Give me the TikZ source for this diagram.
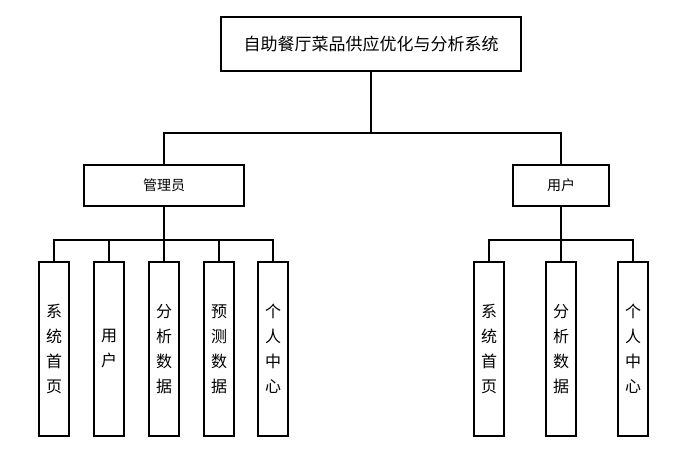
\documentclass[tikz,border=0pt]{standalone}
\usepackage{fontspec}
\newfontfamily\cjk{Noto Sans CJK SC}
\begin{document}
\begin{tikzpicture}[x=1pt,y=-1pt,
  box/.style={draw,line width=1.2pt,inner sep=0pt,font=\cjk},
  leaf/.style={box,minimum width=30pt,minimum height=174pt,align=center,font=\cjk\fontsize{16}{25}\selectfont},
  ln/.style={line width=1.2pt}]
\useasboundingbox (0,0) rectangle (679,448);
\node[box,minimum width=300pt,minimum height=54pt,font=\cjk\fontsize{17}{20}\selectfont] (root) at (371,44) {自助餐厅菜品供应优化与分析系统};
\node[box,minimum width=160pt,minimum height=41pt,font=\cjk\fontsize{14}{16}\selectfont] (adm) at (164,185.5) {管理员};
\node[box,minimum width=96pt,minimum height=41pt,font=\cjk\fontsize{14}{16}\selectfont] (usr) at (561,185.5) {用户};
\node[leaf] (a1) at (54,349) {系\\统\\首\\页};
\node[leaf] (a2) at (109,349) {用\\户};
\node[leaf] (a3) at (164,349) {分\\析\\数\\据};
\node[leaf] (a4) at (219,349) {预\\测\\数\\据};
\node[leaf] (a5) at (273,349) {个\\人\\中\\心};
\node[leaf] (b1) at (489,349) {系\\统\\首\\页};
\node[leaf] (b2) at (561,349) {分\\析\\数\\据};
\node[leaf] (b3) at (633,349) {个\\人\\中\\心};
\coordinate (j0) at (371,133);
\draw[ln] (root.south) -- (j0);
\draw[ln] (adm.north) |- (j0) -| (usr.north);
\coordinate (ja) at (164,240);
\draw[ln] (adm.south) -- (ja);
\draw[ln] (a1.north) |- (ja) -| (a5.north);
\foreach \n in {a2,a3,a4} \draw[ln] (\n.north) -- (\n.north |- ja);
\coordinate (jb) at (561,240);
\draw[ln] (usr.south) -- (jb);
\draw[ln] (b1.north) |- (jb) -| (b3.north);
\draw[ln] (b2.north) -- (jb);
\end{tikzpicture}
\end{document}
